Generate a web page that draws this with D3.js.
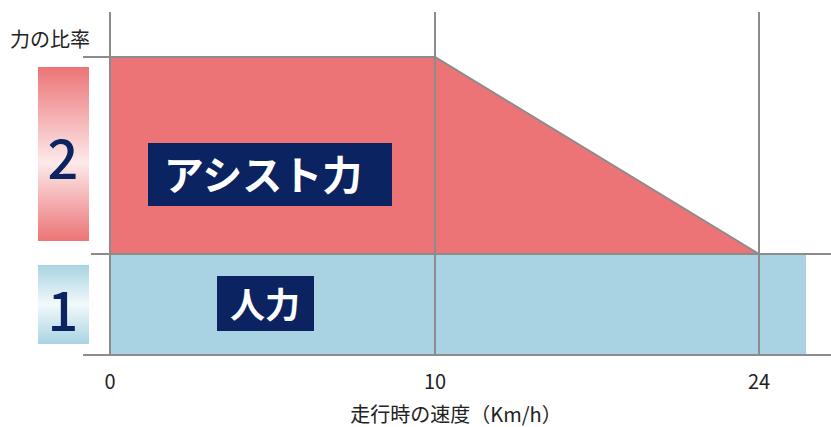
<!DOCTYPE html>
<html><head><meta charset="utf-8">
<script src="https://cdn.jsdelivr.net/npm/d3@7/dist/d3.min.js"></script>
<style>html,body{margin:0;padding:0;background:#fff;}svg{display:block;}</style>
</head><body>
<svg id="c" width="831" height="427"></svg>
<script>
// ---- data ----
const speedTicks = [0, 10, 24];          // km/h tick labels
const xEnd = 26;                          // end of human-power band
const assistSpeed = [0, 10, 24];          // assist area x
const assistRatio = [2, 2, 1];            // assist area top (ratio)
const humanSpeed = [0, 26];
const humanRatio = [1, 1];
const ratioLevels = [1, 2];
const ratioLabels = ["1", "2"];
const areaLabels = ["アシスト力", "人力"];
const xTitle = "走行時の速度（Km/h）";
const yTitle = "力の比率";

// ---- scales (schematic, piecewise) ----
const x = d3.scaleLinear().domain([0, 10, 24, xEnd]).range([110, 435, 759, 806]);
const y = d3.scaleLinear().domain([0, 1, 2]).range([355, 254, 57]);

const svg = d3.select("#c");
const FONT = "'Noto Sans CJK JP','Noto Sans',sans-serif";
const RED = "#ec7476", BLUE = "#a9d3e3", NAVY = "#0b2360", GRID = "#8c8c8c";

const defs = svg.append("defs");
const gR = defs.append("linearGradient").attr("id","gr").attr("x1",0).attr("y1",0).attr("x2",0).attr("y2",1);
gR.append("stop").attr("offset","0%").attr("stop-color",RED);
gR.append("stop").attr("offset","55%").attr("stop-color","#fde9ea");
gR.append("stop").attr("offset","100%").attr("stop-color",RED);
const gB = defs.append("linearGradient").attr("id","gb").attr("x1",0).attr("y1",0).attr("x2",0).attr("y2",1);
gB.append("stop").attr("offset","0%").attr("stop-color",BLUE);
gB.append("stop").attr("offset","50%").attr("stop-color","#f2f9fb");
gB.append("stop").attr("offset","100%").attr("stop-color",BLUE);

// areas
const humanData = humanSpeed.map((s,i)=>({s, v: humanRatio[i]}));
const assistData = assistSpeed.map((s,i)=>({s, v: assistRatio[i]}));
svg.append("path").datum(humanData)
  .attr("d", d3.area().x(d=>x(d.s)).y0(y(0)).y1(d=>y(d.v)))
  .attr("fill", BLUE);
svg.append("path").datum(assistData)
  .attr("d", d3.area().x(d=>x(d.s)).y0(y(1)).y1(d=>y(d.v)))
  .attr("fill", RED);
// assist outline (top + diagonal)
svg.append("path").datum(assistData)
  .attr("d", d3.line().x(d=>x(d.s)).y(d=>y(d.v)))
  .attr("fill","none").attr("stroke",GRID).attr("stroke-width",2);

// grid lines
const g = svg.append("g").attr("stroke",GRID).attr("stroke-width",2);
speedTicks.forEach(t=>{
  g.append("line").attr("x1",x(t)).attr("x2",x(t)).attr("y1",12).attr("y2",y(0));
});
g.append("line").attr("x1",83).attr("x2",x(10)).attr("y1",y(2)).attr("y2",y(2));
g.append("line").attr("x1",91).attr("x2",831).attr("y1",y(1)).attr("y2",y(1));
g.append("line").attr("x1",83).attr("x2",831).attr("y1",y(0)).attr("y2",y(0));

// tick labels
svg.append("g").selectAll("text").data(speedTicks).join("text")
  .attr("x", d=>x(d)).attr("y", 380).attr("text-anchor","middle").attr("dominant-baseline","central")
  .attr("font-family",FONT).attr("font-size",20).attr("fill","#222").text(d=>d);

svg.append("text").attr("x",456).attr("y",413).attr("text-anchor","middle").attr("dominant-baseline","central")
  .attr("font-family",FONT).attr("font-size",20).attr("fill","#222").text(xTitle);
svg.append("text").attr("x",50).attr("y",38).attr("text-anchor","middle").attr("dominant-baseline","central")
  .attr("font-family",FONT).attr("font-size",20).attr("fill","#222").text(yTitle);

// left ratio boxes
const bands = [[0,1],[1,2]];
ratioLevels.forEach((lv,i)=>{
  const [a,b] = bands[i];
  const top = y(b) + (i===1?10:11), bot = y(a) - (i===1?13:11);
  svg.append("rect").attr("x",38).attr("y",top).attr("width",51).attr("height",bot-top)
    .attr("fill", i===1 ? "url(#gr)" : "url(#gb)");
  svg.append("text").attr("x",63).attr("y",(i===1? 155 : 307)).attr("text-anchor","middle")
    .attr("dominant-baseline","central").attr("font-family",FONT).attr("font-weight",500).attr("font-size",54)
    .attr("fill",NAVY).text(ratioLabels[i]);
});

// area labels
const lab = [
  {t: areaLabels[0], x: 148, y: 143, w: 244, h: 63, fs: 40, tx: 263, ty: 173},
  {t: areaLabels[1], x: 217, y: 276, w: 97, h: 55, fs: 35, tx: 265, ty: 302}
];
lab.forEach(l=>{
  svg.append("rect").attr("x",l.x).attr("y",l.y).attr("width",l.w).attr("height",l.h).attr("fill",NAVY);
  svg.append("text").attr("x",l.tx).attr("y",l.ty).attr("text-anchor","middle").attr("dominant-baseline","central")
    .attr("font-family",FONT).attr("font-weight","bold").attr("font-size",l.fs).attr("fill","#fff").text(l.t);
});
</script>
</body></html>
